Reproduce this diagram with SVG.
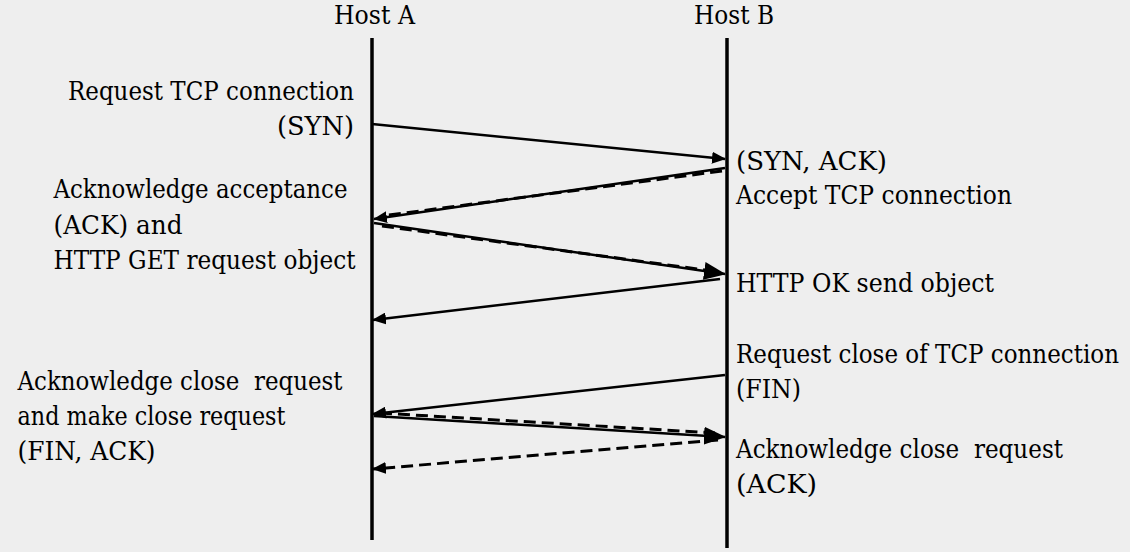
<svg xmlns="http://www.w3.org/2000/svg" width="1130" height="552" viewBox="0 0 1130 552">
<defs>
<style>
text{font-size:26.5px;fill:#000;white-space:pre}
.life{stroke:#000;stroke-width:3.5;fill:none}
.m{stroke:#000;stroke-width:2.5;fill:none}
.d{stroke:#000;stroke-width:3;fill:none;stroke-dasharray:12 6}
</style>
<marker id="ah" markerWidth="14" markerHeight="12" refX="13" refY="6" orient="auto" markerUnits="userSpaceOnUse"><path d="M0,0 L14,6 L0,12 Z" fill="#000"/></marker>
<marker id="ahL" markerWidth="22" markerHeight="18" refX="21" refY="9" orient="auto" markerUnits="userSpaceOnUse"><path d="M0,0 L22,9 L0,18 Z" fill="#000"/></marker>
</defs>
<rect width="1130" height="552" fill="#eeeeee"/>
<g id="hostA" font-family="DejaVu Serif, serif">
<text x="334" y="24" textLength="81" lengthAdjust="spacingAndGlyphs">Host A</text>
<line class="life" x1="372" y1="38" x2="372" y2="540"/>
</g>
<g id="hostB" font-family="DejaVu Serif, serif">
<text x="694" y="23.5" textLength="80" lengthAdjust="spacingAndGlyphs">Host B</text>
<line class="life" x1="727" y1="38" x2="727" y2="548"/>
</g>
<g id="connectors">
<line class="m" x1="372" y1="124" x2="725" y2="159" marker-end="url(#ah)"/>
<line class="m" x1="725" y1="168" x2="374" y2="219" marker-end="url(#ah)"/>
<line class="d" x1="722" y1="171" x2="382" y2="216"/>
<line class="m" x1="374" y1="223" x2="725" y2="274" marker-end="url(#ahL)"/>
<line class="d" x1="382" y1="226" x2="705" y2="270"/>
<line class="m" x1="720" y1="279" x2="373" y2="320" marker-end="url(#ah)"/>
<line class="m" x1="725" y1="375" x2="373" y2="414" marker-end="url(#ah)"/>
<line class="m" x1="374" y1="416" x2="725" y2="437" marker-end="url(#ahL)"/>
<line class="d" x1="380" y1="413" x2="715" y2="433"/>
<line class="d" x1="718" y1="440" x2="373" y2="469" marker-end="url(#ah)"/>
</g>
<g id="labelsLeft" font-family="DejaVu Serif, serif">
<text x="68" y="99.5" textLength="286" lengthAdjust="spacingAndGlyphs">Request TCP connection</text>
<text x="277" y="134.5" textLength="77" lengthAdjust="spacingAndGlyphs">(SYN)</text>
<text x="53.5" y="198" textLength="294" lengthAdjust="spacingAndGlyphs">Acknowledge acceptance</text>
<text x="53.5" y="233.5" textLength="129" lengthAdjust="spacingAndGlyphs">(ACK) and</text>
<text x="53.5" y="268.5" textLength="302" lengthAdjust="spacingAndGlyphs">HTTP GET request object</text>
<text x="17.5" y="390" textLength="325" lengthAdjust="spacingAndGlyphs">Acknowledge close  request</text>
<text x="17.5" y="424.5" textLength="268" lengthAdjust="spacingAndGlyphs">and make close request</text>
<text x="17.5" y="459.5" textLength="138" lengthAdjust="spacingAndGlyphs">(FIN, ACK)</text>
</g>
<g id="labelsRight" font-family="DejaVu Serif, serif">
<text x="736" y="169.5" textLength="151" lengthAdjust="spacingAndGlyphs">(SYN, ACK)</text>
<text x="736" y="204" textLength="276" lengthAdjust="spacingAndGlyphs">Accept TCP connection</text>
<text x="736" y="291.5" textLength="258" lengthAdjust="spacingAndGlyphs">HTTP OK send object</text>
<text x="736" y="363" textLength="383" lengthAdjust="spacingAndGlyphs">Request close of TCP connection</text>
<text x="736" y="398" textLength="65" lengthAdjust="spacingAndGlyphs">(FIN)</text>
<text x="736" y="458" textLength="327" lengthAdjust="spacingAndGlyphs">Acknowledge close  request</text>
<text x="736" y="493" textLength="81" lengthAdjust="spacingAndGlyphs">(ACK)</text>
</g>
</svg>
